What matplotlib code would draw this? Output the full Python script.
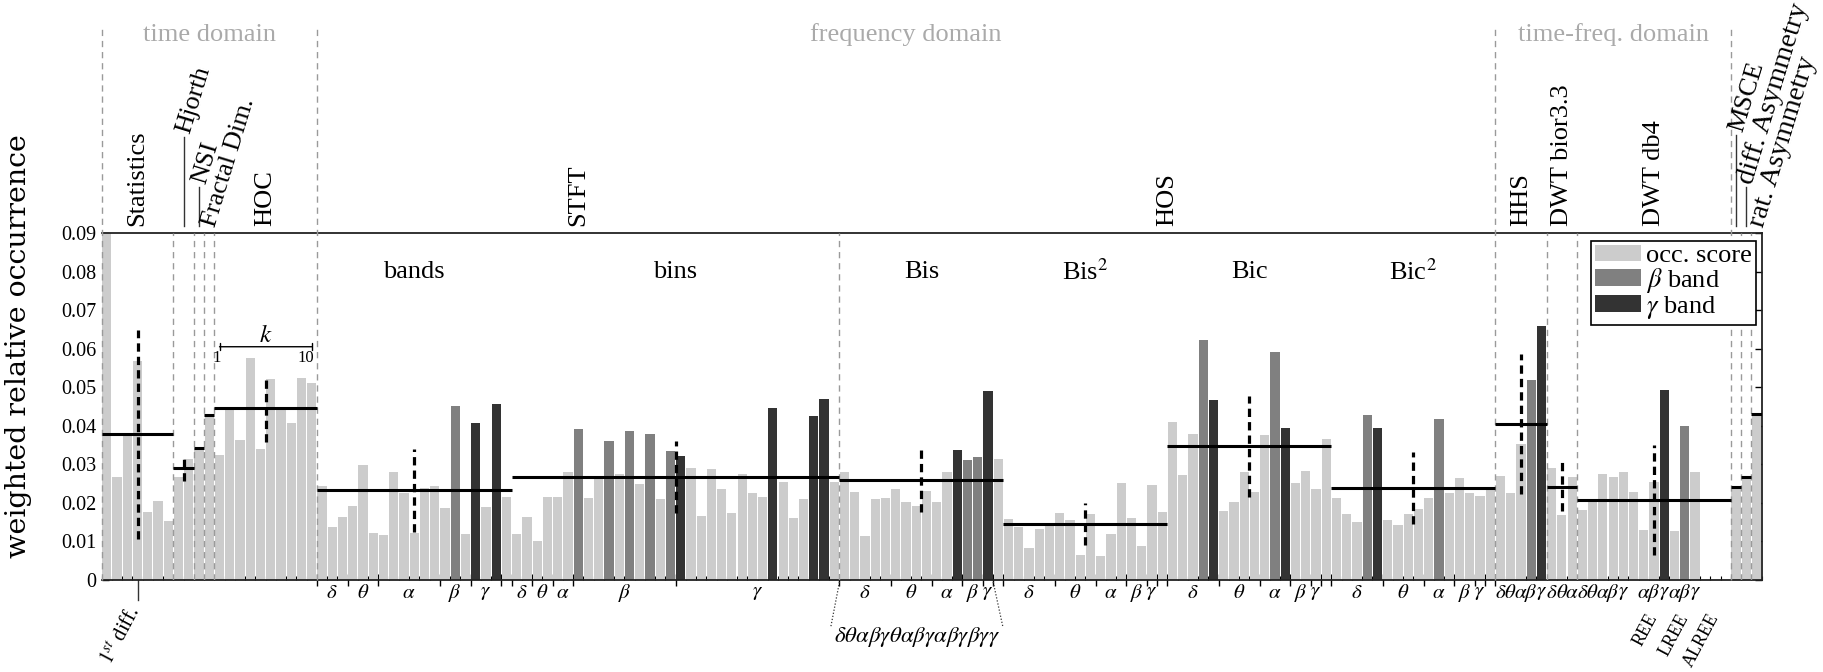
import numpy as np
import matplotlib
matplotlib.use("Agg")
import matplotlib.pyplot as plt
import matplotlib.patches as mpatches
from matplotlib.ticker import FuncFormatter

plt.rcParams['font.family'] = ['Liberation Serif', 'DejaVu Serif']
plt.rcParams['mathtext.fontset'] = 'stix'

# ------------------------------------------------------------------ data
# weighted relative occurrence per feature (one bar each), grouped by feature family
statistics = [0.0900, 0.0266, 0.0376, 0.0567, 0.0177, 0.0205, 0.0152]
hjorth = [0.0266, 0.0313]
nsi = [0.0342]
fractal_dim = [0.0427]
hoc = [0.0325, 0.0441, 0.0362, 0.0577, 0.0340, 0.0521, 0.0443, 0.0408, 0.0524, 0.0510]
stft_bands = [0.0244, 0.0137, 0.0164, 0.0193, 0.0299, 0.0123, 0.0117, 0.0280, 0.0225,
              0.0123, 0.0239, 0.0244, 0.0186, 0.0452, 0.0119, 0.0408, 0.0190, 0.0457, 0.0216]
stft_bins = [0.0119, 0.0164, 0.0102, 0.0214, 0.0214, 0.0281, 0.0392, 0.0212, 0.0267, 0.0361,
             0.0275, 0.0387, 0.0248, 0.0379, 0.0210, 0.0335, 0.0322, 0.0290, 0.0166, 0.0289,
             0.0236, 0.0173, 0.0275, 0.0226, 0.0216, 0.0447, 0.0255, 0.0160, 0.0211, 0.0426,
             0.0470, 0.0254]
bis = [0.0281, 0.0228, 0.0115, 0.0210, 0.0212, 0.0237, 0.0202, 0.0193, 0.0231, 0.0202,
       0.0279, 0.0336, 0.0312, 0.0319, 0.0491, 0.0315]
bis2 = [0.0158, 0.0137, 0.0082, 0.0133, 0.0143, 0.0173, 0.0156, 0.0065, 0.0171, 0.0062,
        0.0119, 0.0251, 0.0160, 0.0088, 0.0247, 0.0176]
bic = [0.0409, 0.0273, 0.0379, 0.0623, 0.0467, 0.0180, 0.0202, 0.0281, 0.0228, 0.0376,
       0.0592, 0.0395, 0.0252, 0.0283, 0.0235, 0.0366]
bic2 = [0.0213, 0.0170, 0.0151, 0.0428, 0.0395, 0.0155, 0.0143, 0.0171, 0.0184, 0.0213,
        0.0418, 0.0226, 0.0264, 0.0226, 0.0218, 0.0234]
hhs = [0.0270, 0.0225, 0.0353, 0.0519, 0.0659]
dwt_bior = [0.0290, 0.0169, 0.0268]
dwt_db4 = [0.0182, 0.0203, 0.0274, 0.0266, 0.0279, 0.0227, 0.0130, 0.0253, 0.0493, 0.0128,
           0.0400, 0.0279, 0.0, 0.0, 0.0]
msce = [0.0242]
diff_asym = [0.0266]
rat_asym = [0.0430]

# bar shading: o = occ. score, b = beta band, g = gamma band
statistics_c = "ooooooo"
hjorth_c = "oo"
nsi_c = "o"
fractal_dim_c = "o"
hoc_c = "oooooooooo"
stft_bands_c = "ooooooooooooobogogo"
stft_bins_c = "oooooo" + "b" + "oo" + "b" + "o" + "b" + "o" + "b" + "o" + "b" + "g" + "oooooooo" + "g" + "ooo" + "gg" + "o"
bis_c = "ooooooooooo" + "gbbg" + "o"
bis2_c = "oooooooooooooooo"
bic_c = "ooo" + "bg" + "ooooo" + "bg" + "oooo"
bic2_c = "ooo" + "bg" + "ooooo" + "b" + "ooooo"
hhs_c = "ooobg"
dwt_bior_c = "ooo"
dwt_db4_c = "oooooooo" + "g" + "o" + "b" + "oooo"
msce_c = "o"
diff_asym_c = "o"
rat_asym_c = "o"

# sub-band tick labels
stft_bands_split = [3, 3, 6, 3, 3]      # delta theta alpha beta gamma (+1 trailing bar)
stft_bins_split = [2, 2, 2, 10, 16]
hos_split = [5, 4, 3, 2, 1]             # (+1 trailing bar)
band_names = "δθαβγ"
bis_pairs = "δθαβγθαβγαβγβγγ"
hhs_letters = "δθαβγ"
dwt_bior_letters = "δθα"
dwt_db4_letters = ["δ", "θ", "α", "β", "γ", "", "α", "β", "γ", "α", "β", "γ", "", "", ""]
ree_labels = ["REE", "LREE", "ALREE"]
ree_centres = [152, 155, 158]

# ------------------------------------------------------------------ layout helpers
group_list = [
    ("Statistics", statistics, statistics_c), ("Hjorth", hjorth, hjorth_c),
    ("NSI", nsi, nsi_c), ("Fractal Dim.", fractal_dim, fractal_dim_c), ("HOC", hoc, hoc_c),
    ("bands", stft_bands, stft_bands_c), ("bins", stft_bins, stft_bins_c),
    ("Bis", bis, bis_c), ("Bis2", bis2, bis2_c), ("Bic", bic, bic_c), ("Bic2", bic2, bic2_c),
    ("HHS", hhs, hhs_c), ("DWT bior3.3", dwt_bior, dwt_bior_c), ("DWT db4", dwt_db4, dwt_db4_c),
    ("MSCE", msce, msce_c), ("diff", diff_asym, diff_asym_c), ("rat", rat_asym, rat_asym_c),
]
G = {}
pos = 1
for name, vals, cols in group_list:
    n = len(vals)
    G[name] = dict(start=pos, n=n, lo=pos - 0.5, hi=pos + n - 0.5, c=pos + (n - 1) / 2.0,
                   vals=np.array(vals))
    pos += n
N = pos - 1

heights = np.concatenate([np.array(v) for _, v, _ in group_list])
codes = "".join(c for _, _, c in group_list)
xs = np.arange(1, N + 1)
palette = {'o': '#cccccc', 'b': '#808080', 'g': '#333333'}

W, H = 1824, 672
fig = plt.figure(figsize=(W / 100, H / 100), dpi=100)
ax_l, ax_r, ax_t, ax_b = 101.7, 1761.7, 233.0, 580.0
ax = fig.add_axes([ax_l / W, 1 - ax_b / H, (ax_r - ax_l) / W, (ax_b - ax_t) / H])


def ay(ypx):
    """reference pixel row -> axes fraction"""
    return (ax_b - ypx) / (ax_b - ax_t)


ax.bar(xs, heights, width=0.9, color=[palette[c] for c in codes], linewidth=0, zorder=2)
ax.set_xlim(0.5, N + 0.5)
ax.set_ylim(0, 0.09)

# group means and std
for name, g in G.items():
    m = g['vals'].mean()
    ax.plot([g['lo'], g['hi']], [m, m], color='black', lw=2.2, zorder=5, solid_capstyle='butt')
    if g['n'] > 1:
        s = g['vals'].std(ddof=1)
        ax.plot([g['c'], g['c']], [m - s, m + s], color='black', lw=2.3,
                ls=(0, (2.6, 1.6)), zorder=6, dash_capstyle='butt')

# separators
gray = '#9a9a9a'
dash = (0, (4.5, 3.5))
inner_sep = [G['Statistics']['hi'], G['Hjorth']['hi'], G['NSI']['hi'], G['Fractal Dim.']['hi'],
             G['bins']['hi'], G['HHS']['hi'], G['DWT bior3.3']['hi'], G['MSCE']['hi'], G['diff']['hi']]
domain_sep = [G['Statistics']['lo'], G['HOC']['hi'], G['Bic2']['hi'], G['DWT db4']['hi']]
for xv in inner_sep:
    ax.plot([xv, xv], [0, 1], transform=ax.get_xaxis_transform(), color=gray, lw=1.0, ls=dash, zorder=3)
for xv in domain_sep:
    ax.plot([xv, xv], [0, ay(25)], transform=ax.get_xaxis_transform(), color=gray, lw=1.0,
            ls=dash, zorder=3, clip_on=False)

# spines & ticks
ax.spines['left'].set_visible(False)
for sp in ['top', 'right', 'bottom']:
    ax.spines[sp].set_color('#222222')
    ax.spines[sp].set_linewidth(1.3)
ax.set_yticks(np.arange(0, 0.0901, 0.01))
ax.yaxis.set_major_formatter(FuncFormatter(lambda v, p: '0' if abs(v) < 1e-9 else f'{v:.2f}'))
ax.tick_params(axis='y', direction='in', length=5, width=1, right=True, labelsize=14.5, pad=4)


def split_bounds(g, split, extra):
    b = [g['lo']]
    for k in split:
        b.append(b[-1] + k)
    if extra:
        b.append(g['hi'])
    return b


bands_b = split_bounds(G['bands'], stft_bands_split, True)
bins_b = split_bounds(G['bins'], stft_bins_split, False)
hos_b = {k: split_bounds(G[k], hos_split, True) for k in ['Bis', 'Bis2', 'Bic', 'Bic2']}
major_x = sorted(set(bands_b + bins_b + sum(hos_b.values(), [])))
ax.set_xticks(major_x)
ax.set_xticks(np.arange(0.5, N + 0.51, 1.0), minor=True)
ax.tick_params(axis='x', which='major', direction='inout', length=9, width=1, labelbottom=False)
ax.tick_params(axis='x', which='minor', direction='in', length=3, width=0.8)

xt = ax.get_xaxis_transform()
greek = {'δ': r'\delta', 'θ': r'\theta', 'α': r'\alpha', 'β': r'\beta', 'γ': r'\gamma'}


def gtex(s):
    return '$' + ''.join(greek[c] for c in s) + '$'


ylab = ay(593)


def band_labels(bounds):
    for i, ch in enumerate(band_names):
        ax.text((bounds[i] + bounds[i + 1]) / 2, ylab, gtex(ch), transform=xt, ha='center',
                va='center', fontsize=15, clip_on=False)


band_labels(bands_b)
band_labels(bins_b)
for k in hos_b:
    band_labels(hos_b[k])

for letters, key in [(hhs_letters, 'HHS'), (dwt_bior_letters, 'DWT bior3.3'), (dwt_db4_letters, 'DWT db4')]:
    for i, ch in enumerate(letters):
        if ch:
            ax.text(G[key]['start'] + i, ylab, gtex(ch), transform=xt, ha='center', va='center',
                    fontsize=15, clip_on=False)

# expanded Bis label with dotted fan lines
b0 = hos_b['Bis']
ax.plot([b0[0], b0[0] - 0.85], [ay(582), ay(627)], transform=xt, color='#333333', lw=0.9,
        ls=(0, (1, 1.5)), clip_on=False)
ax.plot([b0[5], b0[5] + 0.95], [ay(582), ay(627)], transform=xt, color='#333333', lw=0.9,
        ls=(0, (1, 1.5)), clip_on=False)
ax.text((b0[0] - 0.85 + b0[5] + 0.95) / 2, ay(637), gtex(bis_pairs), transform=xt, ha='center',
        va='center', fontsize=16.5, clip_on=False)

# 1st diff. marker
stat_c = G['Statistics']['c']
ax.plot([stat_c, stat_c], [0, ay(600)], transform=xt, color='#333333', lw=1.0, clip_on=False)
ax.text(stat_c + 0.67, ay(603), r'$1^{st}$ diff.', transform=xt, ha='right', va='top',
        rotation=62, fontsize=15, clip_on=False)
for lab, c in zip(ree_labels, ree_centres):
    ax.text(c + 0.7, ay(611), lab, transform=xt, ha='right', va='top', rotation=62,
            fontsize=13, clip_on=False)

# k annotation over HOC
h0 = G['HOC']['start']; h1 = h0 + G['HOC']['n'] - 1
ax.annotate('', xy=(h1, 0.0605), xytext=(h0, 0.0605),
            arrowprops=dict(arrowstyle='|-|,widthA=0.25,widthB=0.25', lw=1.0, color='black',
                            shrinkA=0, shrinkB=0), zorder=7)
ax.text(h0 - 0.25, 0.0577, '1', ha='center', va='center', fontsize=12, zorder=7)
ax.text(h1 + 0.2, 0.0577, '10', ha='right', va='center', fontsize=12, zorder=7)
ax.text((h0 + h1) / 2, 0.0632, '$k$', ha='center', va='center', fontsize=18, zorder=7)

# inner section titles
for key, lab in [('bands', 'bands'), ('bins', 'bins'), ('Bis', 'Bis'), ('Bis2', 'Bis$^2$'),
                 ('Bic', 'Bic'), ('Bic2', 'Bic$^2$')]:
    ax.text(G[key]['c'], 0.0800, lab, ha='center', va='center', fontsize=19, zorder=7)

# top feature-family labels
ytop = ay(226)
vert = [(G['Statistics']['c'], 'Statistics'), (G['HOC']['c'], 'HOC'),
        ((G['bands']['lo'] + G['bins']['hi']) / 2, 'STFT'),
        ((G['Bis']['lo'] + G['Bic2']['hi']) / 2, 'HOS'),
        (G['HHS']['c'], 'HHS'), (G['DWT bior3.3']['c'], 'DWT bior3.3'), (G['DWT db4']['c'], 'DWT db4')]
for xv, lab in vert:
    ax.text(xv, ytop, lab, transform=xt, rotation=90, ha='center', va='bottom', fontsize=19,
            clip_on=False)

slanted = [(G['Hjorth']['c'], 'Hjorth', 137, 133, 19), (G['NSI']['c'], 'NSI', 187, 183, 19),
           (G['Fractal Dim.']['c'], 'Fractal Dim.', None, 226, 19),
           (G['MSCE']['c'], 'MSCE', 135, 131, 19), (G['diff']['c'], 'diff. Asymmetry', 187, 183, 20.5),
           (G['rat']['c'], 'rat. Asymmetry', None, 226, 20.5)]
for xv, lab, lead_top, anchor, fs in slanted:
    if lead_top is not None:
        ax.plot([xv, xv], [ytop, ay(lead_top)], transform=xt, color='#333333', lw=1.0, clip_on=False)
    ax.text(xv, ay(anchor), lab, transform=xt, rotation=73, rotation_mode='anchor', ha='left',
            va='center', fontsize=fs, clip_on=False)

# domain titles
dom = [((G['Statistics']['lo'] + G['HOC']['hi']) / 2, 'time domain'),
       ((G['bands']['lo'] + G['Bic2']['hi']) / 2, 'frequency domain'),
       ((G['HHS']['lo'] + G['DWT db4']['hi']) / 2, 'time-freq. domain')]
for xv, lab in dom:
    ax.text(xv, ay(35), lab, transform=xt, ha='center', va='center', fontsize=19,
            color='#aaaaaa', clip_on=False)

# legend
handles = [mpatches.Patch(facecolor=palette[k], edgecolor='none') for k in 'obg']
leg = ax.legend(handles, ['occ. score', r'$\beta$ band', r'$\gamma$ band'], loc='upper right',
                bbox_to_anchor=(0.9965, 0.978), borderaxespad=0, fontsize=19, fancybox=False,
                edgecolor='black', framealpha=1, borderpad=0.15, labelspacing=-0.05,
                handlelength=1.75, handleheight=0.6, handletextpad=0.2)
leg.get_frame().set_linewidth(1.2)
leg.set_zorder(10)

fig.text(19 / W, 1 - 346 / H, 'weighted relative occurrence', rotation=90, ha='center',
         va='center', fontsize=20.5, family=['DejaVu Serif'])

fig.savefig('out.png', dpi=100)
